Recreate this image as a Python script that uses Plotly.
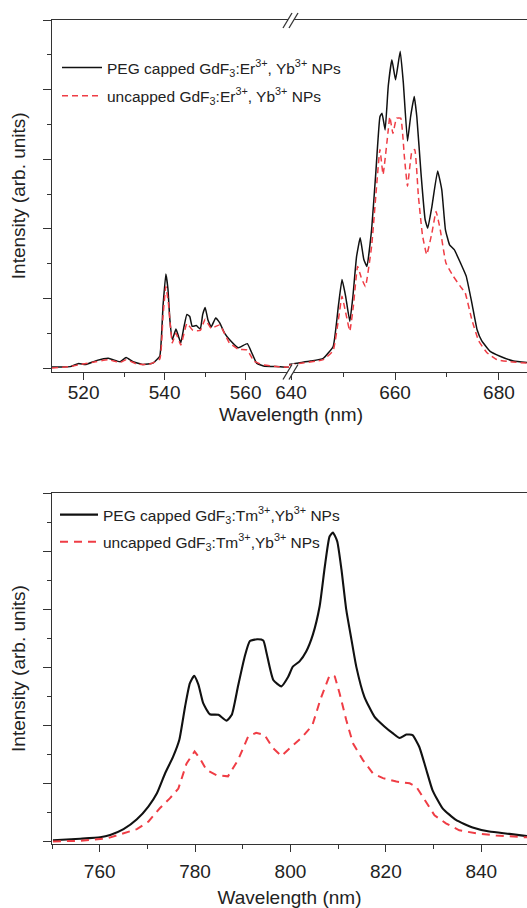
import plotly.graph_objects as go

# ---------------- Top panel: GdF3:Er3+,Yb3+ (broken wavelength axis) ----------------
er_left_peg_nm = [512.2, 514.5, 516.7, 518.8, 520.4, 523.3, 526.1, 529.0, 530.5, 532.2, 534.7, 537.1,
                  538.8, 539.6, 540.3, 540.8, 541.3, 541.9, 542.8, 543.4, 544.0, 544.8, 545.5, 546.2,
                  546.8, 547.8, 548.8, 549.4, 550.0, 550.7, 551.5, 552.6, 553.6, 554.8, 556.0, 558.2,
                  560.4, 561.5, 562.7, 564.4, 568.5, 570.7]
er_left_peg = [0.014, 0.015, 0.02, 0.066, 0.05, 0.11, 0.14, 0.09, 0.15, 0.09, 0.05, 0.07,
               0.17, 0.89, 1.35, 1.15, 0.69, 0.41, 0.56, 0.46, 0.36, 0.60, 0.77, 0.74,
               0.60, 0.61, 0.56, 0.77, 0.87, 0.69, 0.59, 0.72, 0.65, 0.50, 0.41, 0.29,
               0.35, 0.22, 0.07, 0.03, 0.02, 0.01]

er_left_unc_nm = [512.2, 516.7, 519.0, 523.0, 526.0, 529.0, 530.5, 533.0, 536.0, 538.8, 539.6, 540.3,
                  540.9, 541.5, 541.9, 542.8, 544.0, 545.5, 547.0, 548.8, 550.0, 551.5, 553.6, 556.0,
                  558.2, 560.4, 562.0, 564.0, 568.0, 570.7]
er_left_unc = [0.0, 0.02, 0.05, 0.09, 0.12, 0.08, 0.12, 0.06, 0.05, 0.13, 0.75, 1.17,
               0.95, 0.55, 0.36, 0.50, 0.33, 0.64, 0.54, 0.54, 0.70, 0.57, 0.62, 0.36,
               0.27, 0.26, 0.10, 0.05, 0.02, 0.01]

er_right_peg_nm = [639.6, 641.1, 643.7, 646.2, 648.1, 649.1, 649.8, 650.5, 651.3, 651.9, 652.6, 653.3,
                   654.0, 654.6, 655.5, 656.3, 657.1, 657.5, 658.1, 658.7, 659.4, 660.1, 661.0, 661.6,
                   662.4, 663.0, 663.7, 664.2, 665.0, 665.8, 666.3, 667.1, 668.2, 669.0, 669.7, 670.5,
                   671.4, 672.6, 673.7, 674.8, 675.8, 676.7, 678.3, 680.2, 682.8, 685.4]
er_right_peg = [0.05, 0.07, 0.10, 0.14, 0.31, 0.89, 1.27, 1.03, 0.67, 1.03, 1.60, 1.87,
                1.56, 1.46, 1.99, 2.80, 3.61, 3.66, 3.42, 4.05, 4.43, 4.14, 4.55, 4.10,
                3.26, 3.61, 3.90, 3.61, 2.80, 2.13, 2.01, 2.32, 2.83, 2.56, 1.99, 1.77,
                1.70, 1.51, 1.32, 0.93, 0.55, 0.39, 0.24, 0.17, 0.10, 0.08]

er_right_unc_nm = [639.6, 641.1, 646.2, 648.1, 649.1, 649.8, 650.5, 651.3, 652.0, 652.8, 653.5, 654.3,
                   655.5, 656.3, 657.1, 657.7, 658.7, 659.0, 659.6, 660.3, 661.1, 661.8, 662.4, 663.2,
                   663.8, 664.5, 665.3, 666.1, 667.1, 667.9, 668.7, 669.8, 671.2, 672.6, 673.5, 674.8,
                   676.1, 677.7, 679.6, 682.2, 685.4]
er_right_unc = [0.04, 0.06, 0.12, 0.25, 0.69, 1.03, 0.80, 0.53, 0.90, 1.46, 1.30, 1.17,
                1.75, 2.47, 3.14, 2.78, 3.42, 3.61, 3.37, 3.59, 3.59, 3.04, 2.61, 3.09,
                3.14, 2.47, 1.90, 1.63, 1.94, 2.25, 1.99, 1.51, 1.32, 1.17, 1.08, 0.69,
                0.39, 0.22, 0.12, 0.09, 0.07]

# ---------------- Bottom panel: GdF3:Tm3+,Yb3+ ----------------
tm_peg_nm = [750.2, 755.9, 760.1, 762.2, 765.0, 767.8, 770.2, 772.0, 773.7, 775.4, 776.7, 777.9,
             778.9, 779.8, 780.7, 781.7, 783.1, 784.9, 786.6, 787.7, 789.0, 790.4, 791.5, 793.0,
             794.3, 795.0, 796.4, 798.1, 799.5, 800.5, 801.9, 803.3, 804.7, 806.1, 807.2, 808.2,
             808.9, 809.8, 810.7, 811.7, 812.8, 813.8, 815.5, 817.6, 819.7, 821.5, 822.9, 824.3,
             825.6, 827.0, 828.5, 829.8, 831.9, 834.7, 838.2, 841.7, 845.9, 849.6]
tm_peg = [0.02, 0.045, 0.07, 0.11, 0.21, 0.38, 0.60, 0.83, 1.17, 1.46, 1.75, 2.32,
          2.72, 2.85, 2.70, 2.38, 2.19, 2.18, 2.08, 2.18, 2.67, 3.18, 3.45, 3.48,
          3.46, 3.24, 2.78, 2.67, 2.83, 3.01, 3.10, 3.27, 3.56, 4.04, 4.73, 5.25,
          5.32, 5.17, 4.68, 3.99, 3.47, 3.01, 2.49, 2.15, 1.98, 1.86, 1.78, 1.84,
          1.83, 1.63, 1.23, 0.88, 0.57, 0.37, 0.24, 0.17, 0.13, 0.09]

tm_unc_nm = [750.2, 755.9, 761.5, 765.0, 767.8, 770.2, 772.6, 774.7, 776.5, 778.2, 779.9, 781.0,
             782.4, 784.5, 786.9, 789.0, 791.1, 792.8, 794.6, 796.2, 798.1, 800.2, 802.5, 804.6,
             806.3, 808.2, 809.3, 810.3, 811.7, 813.1, 815.2, 817.3, 819.4, 822.2, 825.0, 826.4,
             828.1, 830.2, 832.6, 835.4, 838.9, 843.1, 849.6]
tm_unc = [0.0, 0.01, 0.05, 0.14, 0.21, 0.34, 0.57, 0.74, 0.91, 1.34, 1.55, 1.43,
          1.23, 1.14, 1.12, 1.40, 1.80, 1.87, 1.83, 1.62, 1.47, 1.63, 1.80, 2.00,
          2.45, 2.86, 2.84, 2.55, 2.09, 1.69, 1.40, 1.17, 1.09, 1.03, 1.00, 0.94,
          0.71, 0.45, 0.31, 0.19, 0.14, 0.10, 0.07]

name_er_peg = "PEG capped GdF<sub>3</sub>:Er<sup>3+</sup>, Yb<sup>3+</sup> NPs"
name_er_unc = "uncapped GdF<sub>3</sub>:Er<sup>3+</sup>, Yb<sup>3+</sup> NPs"
name_tm_peg = "PEG capped GdF<sub>3</sub>:Tm<sup>3+</sup>,Yb<sup>3+</sup> NPs"
name_tm_unc = "uncapped GdF<sub>3</sub>:Tm<sup>3+</sup>,Yb<sup>3+</sup> NPs"

# ---------------- layout geometry ----------------
W, H = 527, 908
ML, MR, MT, MB = 52, 0, 20, 64
PH = H - MT - MB
PW = W - ML - MR


def py(ypx):
    return (H - MB - ypx) / PH


def px(xpx):
    return (xpx - ML) / PW


BLACK = "#111111"
RED = "#ef3d45"
AX = "#333333"
FONT = "Liberation Sans, Arial, sans-serif"

fig = go.Figure()

top_black = dict(color=BLACK, width=1.5, shape="spline", smoothing=0.35)
top_red = dict(color=RED, width=1.5, dash="6px,4px", shape="spline", smoothing=0.35)

fig.add_trace(go.Scatter(x=er_left_peg_nm, y=er_left_peg, xaxis="x", yaxis="y", mode="lines",
                         line=top_black, name=name_er_peg,
                         legend="legend", legendgroup="a", showlegend=True))
fig.add_trace(go.Scatter(x=er_right_peg_nm, y=er_right_peg, xaxis="x2", yaxis="y", mode="lines",
                         line=top_black, name=name_er_peg,
                         legend="legend", legendgroup="a", showlegend=False))
fig.add_trace(go.Scatter(x=er_left_unc_nm, y=er_left_unc, xaxis="x", yaxis="y", mode="lines",
                         line=top_red, name=name_er_unc,
                         legend="legend", legendgroup="b", showlegend=True))
fig.add_trace(go.Scatter(x=er_right_unc_nm, y=er_right_unc, xaxis="x2", yaxis="y", mode="lines",
                         line=top_red, name=name_er_unc,
                         legend="legend", legendgroup="b", showlegend=False))

fig.add_trace(go.Scatter(x=tm_peg_nm, y=tm_peg, xaxis="x3", yaxis="y2", mode="lines",
                         line=dict(color=BLACK, width=2.1, shape="spline", smoothing=0.5),
                         name=name_tm_peg, legend="legend2", legendgroup="c"))
fig.add_trace(go.Scatter(x=tm_unc_nm, y=tm_unc, xaxis="x3", yaxis="y2", mode="lines",
                         line=dict(color=RED, width=2, dash="8px,6px"),
                         name=name_tm_unc, legend="legend2", legendgroup="d"))

split = px(289)
xcommon = dict(showline=True, linecolor=AX, linewidth=1.3, mirror=True, ticks="outside",
               ticklen=7, tickwidth=1.3, tickcolor=AX, showgrid=False, zeroline=False,
               automargin=False,
               tickfont=dict(size=19, color="#222", family=FONT))
ycommon = dict(showline=True, linecolor=AX, linewidth=1.3, ticks="outside", ticklen=8,
               tickwidth=1.3, tickcolor=AX, showgrid=False, zeroline=False, automargin=False,
               showticklabels=False, dtick=1, tick0=0,
               minor=dict(dtick=0.5, ticklen=4, tickcolor=AX, tickwidth=1.3, ticks="outside"),
               title=dict(text="Intensity (arb. units)", font=dict(size=19, color="#222", family=FONT),
                          standoff=12))

fig.update_layout(
    width=W, height=H,
    margin=dict(l=ML, r=MR, t=MT, b=MB, autoexpand=False),
    paper_bgcolor="white", plot_bgcolor="white",
    font=dict(family=FONT, color="#222"),
    xaxis=dict(domain=[0, split], range=[512.2, 570.7], anchor="y",
               tickvals=[520, 540, 560], ticklabelstandoff=-3,
               minor=dict(tickvals=[530, 550], ticklen=4, tickcolor=AX, tickwidth=1.3, ticks="outside"),
               **xcommon),
    xaxis2=dict(domain=[split, 1], range=[639.6, 685.4], anchor="y",
                tickvals=[640, 660, 680], ticklabelstandoff=-3,
                minor=dict(tickvals=[650, 670], ticklen=4, tickcolor=AX, tickwidth=1.3, ticks="outside"),
                **xcommon),
    yaxis=dict(domain=[py(371.5), 1.0], range=[-0.05, 5.0], anchor="x", **ycommon),
    xaxis3=dict(domain=[0, 1], range=[750, 849.6], anchor="y2", dtick=20, tick0=760,
                ticklabelstandoff=3,
                minor=dict(dtick=10, ticklen=4, tickcolor=AX, tickwidth=1.3, ticks="outside"),
                title=dict(text="Wavelength (nm)", font=dict(size=19, color="#222", family=FONT),
                           standoff=14),
                **xcommon),
    yaxis2=dict(domain=[0, py(493)], range=[-0.045, 6.0], anchor="x3", **ycommon),
    legend=dict(x=px(57), y=py(51), xanchor="left", yanchor="top", bgcolor="rgba(0,0,0,0)",
                font=dict(size=15.5, color="#222", family=FONT), traceorder="grouped",
                tracegroupgap=5, itemwidth=40),
    legend2=dict(x=px(55), y=py(498), xanchor="left", yanchor="top", bgcolor="rgba(0,0,0,0)",
                 font=dict(size=15.5, color="#222", family=FONT), traceorder="grouped",
                 tracegroupgap=4, itemwidth=38),
    annotations=[dict(text="Wavelength (nm)", xref="paper", yref="paper", x=px(291), y=py(414),
                      xanchor="center", yanchor="middle", showarrow=False,
                      font=dict(size=19, color="#222", family=FONT))],
)

# axis-break marks "//" on top and bottom edges of the top panel
shapes = []
for yanchor in (1, 0):
    common = dict(xref="x domain", yref="y domain", xsizemode="pixel", ysizemode="pixel",
                  xanchor=1, yanchor=yanchor, layer="above")
    shapes.append(dict(type="line", x0=-3, y0=-8, x1=6, y1=7, line=dict(color="white", width=5), **common))
    shapes.append(dict(type="line", x0=-6, y0=-8, x1=3, y1=7, line=dict(color=AX, width=1.3), **common))
    shapes.append(dict(type="line", x0=0, y0=-8, x1=9, y1=7, line=dict(color=AX, width=1.3), **common))
fig.update_layout(shapes=shapes)

fig.write_html("out.html", config={"displayModeBar": False},
               post_script="document.body.style.margin='0px';document.body.style.overflow='hidden';")
